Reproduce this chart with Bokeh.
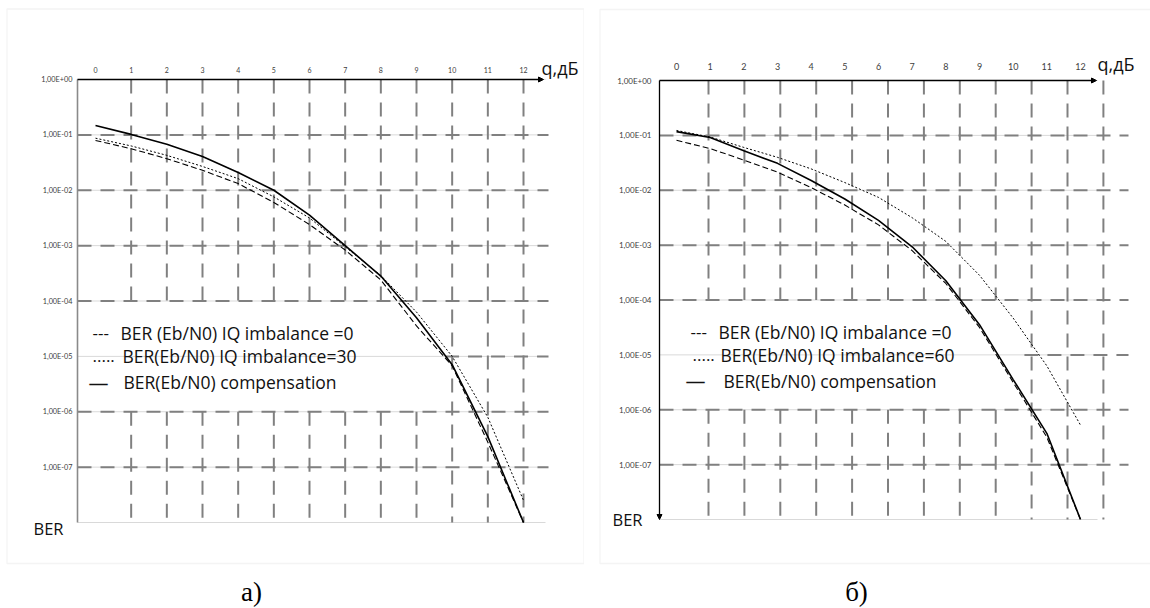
from bokeh.plotting import figure
from bokeh.layouts import row
from bokeh.models import (Range1d, FixedTicker, CustomJSTickFormatter, Label, Arrow,
                          NormalHead, BoxAnnotation, LinearAxis, LogAxis)
from bokeh.embed import file_html
from bokeh.resources import INLINE

FONT = "Lato"
TEXT_FONT = "Open Sans"

# ---------------- data ----------------
x_db = [0, 1, 2, 3, 4, 5, 6, 7, 8, 9, 10, 11, 12]
x_ticks = [0, 1, 2, 3, 4, 5, 6, 7, 8, 9, 10, 11, 12]
grid_cols = [1, 2, 3, 4, 5, 6, 7, 8, 9, 10, 11, 12]
y_ticks = [1e0, 1e-1, 1e-2, 1e-3, 1e-4, 1e-5, 1e-6, 1e-7]
y_tick_labels = ["1,00E+00", "1,00E-01", "1,00E-02", "1,00E-03",
                 "1,00E-04", "1,00E-05", "1,00E-06", "1,00E-07"]
grid_rows = [1e-1, 1e-2, 1e-3, 1e-4, 1e-5, 1e-6, 1e-7]
decades = [1e0, 1e-1, 1e-2, 1e-3, 1e-4, 1e-5, 1e-6, 1e-7, 1e-8]

# panel a
ber_a_ideal = [7.94e-2, 5.62e-2, 3.72e-2, 2.29e-2, 1.32e-2, 6.03e-3, 2.40e-3,
               8.32e-4, 2.40e-4, 3.55e-5, 6.76e-6, 2.82e-7, 1.0e-8]
ber_a_imb = [8.71e-2, 6.31e-2, 4.27e-2, 2.69e-2, 1.62e-2, 7.59e-3, 3.16e-3,
             9.55e-4, 2.88e-4, 6.31e-5, 1.0e-5, 7.94e-7, 2.51e-8]
ber_a_comp = [1.48e-1, 1.02e-1, 6.76e-2, 4.07e-2, 2.09e-2, 1.0e-2, 3.55e-3,
              1.0e-3, 2.82e-4, 5.0e-5, 7.08e-6, 3.55e-7, 1.0e-8]
# panel b
ber_b_ideal = [8.13e-2, 5.75e-2, 3.55e-2, 2.14e-2, 1.12e-2, 5.37e-3, 2.34e-3,
               7.94e-4, 2.0e-4, 3.16e-5, 3.16e-6, 3.16e-7, 1.0e-8]
ber_b_imb = [1.23e-1, 9.33e-2, 6.03e-2, 3.98e-2, 2.45e-2, 1.38e-2, 7.41e-3,
             3.16e-3, 1.17e-3, 2.82e-4, 4.68e-5, 6.31e-6, 5.25e-7]
ber_b_comp = [1.17e-1, 9.12e-2, 5.25e-2, 3.09e-2, 1.51e-2, 6.92e-3, 2.82e-3,
              9.33e-4, 2.24e-4, 3.55e-5, 3.55e-6, 3.72e-7, 1.0e-8]

legend_marks = ["---", ".....", "\u2014"]
legend_a = ["BER (Eb/N0) IQ imbalance =0", "BER(Eb/N0) IQ imbalance=30",
            "BER(Eb/N0) compensation"]
legend_b = ["BER (Eb/N0) IQ imbalance =0", "BER(Eb/N0) IQ imbalance=60",
            "BER(Eb/N0) compensation"]
x_title = "q,дБ"
y_title = "BER"
captions = ["а)", "б)"]

# ---------------- layout constants (canvas pixels) ----------------
Y_BOTTOM, Y_TOP = 1e-8, 1.0
GAP_TOP, GAP_BOTTOM = 1e-4, 1e-6   # hand-drawn grid left out behind the legend
GAP_COLS = 9
PARTIAL_ROW, PARTIAL_START = 1e-5, 9.8
LEGEND_ROW = 1e-5
legend_dy = [23, 0, -26]
mark_fs = ["17px", "17px", "20px"]
LEGEND_FS = "17.5px"

cfg_a = dict(W=584, H=608, x0=95.0, ppu=35.667, g0=95.0, gppu=35.667, y0=79.0, ppd=55.375,
             axis_px=77, grid_end_px=548, excel_end_px=545, arrow_px=543,
             ideal=ber_a_ideal, imb=ber_a_imb, comp=ber_a_comp, legend=legend_a,
             tick_fs_x="7px", tick_fs_y="7.3px", x_so=7, y_so=5, y_axis="grey",
             box=(6.5, 583.5, 8.5, 563), mark_dx=[15, 15, 11], text_dx=[43, 45, 46],
             ber_off=(-14, -6), q_off=(-2, 12), cap=(251, 591), caption=captions[0])
cfg_b = dict(W=566, H=608, x0=92.0, ppu=33.667, g0=88.1, gppu=35.9, y0=80.0, ppd=54.875,
             axis_px=75, grid_end_px=544, excel_end_px=513, arrow_px=512,
             ideal=ber_b_ideal, imb=ber_b_imb, comp=ber_b_comp, legend=legend_b,
             tick_fs_x="9px", tick_fs_y="8px", x_so=11, y_so=8, y_axis="arrow",
             box=(15.5, 580, 9.0, 563), mark_dx=[31, 33, 26], text_dx=[59, 61, 64],
             ber_off=(-17, 0), q_off=(1, 17), cap=(272, 591), caption=captions[1])

TICK_JS = """
let best = -1, bd = 1e9;
for (let i = 0; i < vals.length; i++) {
  const d = Math.abs(Math.log10(vals[i]) - Math.log10(tick));
  if (d < bd) { bd = d; best = i; }
}
return (best >= 0 && bd < 1e-6) ? labs[best] : "";
"""


def make_panel(c):
    W, H = c["W"], c["H"]
    px_x = lambda px: (px - c["x0"]) / c["ppu"]
    px_g = lambda px: (px - c["g0"]) / c["gppu"]
    xr = (px_x(0), px_x(W))
    gr = (px_g(0), px_g(W))
    yr = (10 ** (-(H - c["y0"]) / c["ppd"]), 10 ** (c["y0"] / c["ppd"]))
    x_left = px_x(c["axis_px"])
    g_left, g_right = px_g(c["axis_px"]), px_g(c["grid_end_px"])
    x_excel_end = px_x(c["excel_end_px"])
    x_arrow = px_x(c["arrow_px"])

    p = figure(width=W, height=H, x_range=Range1d(*xr), y_range=Range1d(*yr),
               y_axis_type="log", x_axis_location=None, y_axis_location=None,
               min_border=0, output_backend="svg", toolbar_location=None)
    p.extra_x_ranges = {"grid": Range1d(*gr)}
    p.outline_line_color = None
    p.background_fill_color = "white"
    p.border_fill_color = "white"
    p.grid.visible = False

    # Excel light-grey major gridlines
    p.segment(x0=[x_left] * len(decades), y0=decades, x1=[x_excel_end] * len(decades),
              y1=decades, line_color="#d9d9d9", line_width=1)

    # dashed (hand drawn) grid overlay
    vx, vy0, vy1 = [], [], []
    for gx in grid_cols:
        if gx <= GAP_COLS:
            vx += [gx, gx]
            vy0 += [Y_TOP, GAP_BOTTOM]
            vy1 += [GAP_TOP, Y_BOTTOM]
        else:
            vx.append(gx)
            vy0.append(Y_TOP)
            vy1.append(Y_BOTTOM)
    p.segment(x0=vx, y0=vy0, x1=vx, y1=vy1, x_range_name="grid",
              line_color="#808080", line_width=2, line_dash="14 9")
    hx0 = [PARTIAL_START if gy == PARTIAL_ROW else g_left for gy in grid_rows]
    hx1 = [g_right] * len(grid_rows)
    p.segment(x0=hx0, y0=grid_rows, x1=hx1, y1=grid_rows, x_range_name="grid",
              line_color="#808080", line_width=2, line_dash="14 9")

    # curves
    p.line(x_db, c["ideal"], line_color="black", line_width=1.1, line_dash="6 3")
    p.line(x_db, c["imb"], line_color="black", line_width=1.0, line_dash="2 2")
    p.line(x_db, c["comp"], line_color="black", line_width=1.6)

    # axes crossing at the top-left corner
    xa = LinearAxis(fixed_location=Y_TOP, ticker=FixedTicker(ticks=x_ticks))
    xa.axis_line_color = None
    xa.major_tick_line_color = None
    xa.minor_tick_line_color = None
    xa.major_tick_out = 0
    xa.major_label_text_font = FONT
    xa.major_label_text_font_size = c["tick_fs_x"]
    xa.major_label_text_color = "#404040"
    xa.major_label_standoff = c["x_so"]
    p.add_layout(xa, "above")

    ya = LogAxis(fixed_location=x_left, ticker=FixedTicker(ticks=y_ticks),
                 formatter=CustomJSTickFormatter(args=dict(vals=y_ticks, labs=y_tick_labels),
                                                 code=TICK_JS))
    ya.bounds = (Y_BOTTOM, Y_TOP)
    ya.major_tick_line_color = None
    ya.minor_tick_line_color = None
    ya.major_tick_out = 0
    ya.major_label_text_font = FONT
    ya.major_label_text_font_size = c["tick_fs_y"]
    ya.major_label_text_color = "#404040"
    ya.major_label_standoff = c["y_so"]
    if c["y_axis"] == "grey":
        ya.axis_line_color = "#8a8a8a"
        ya.axis_line_width = 1.6
    else:
        ya.axis_line_color = None
        p.add_layout(Arrow(end=NormalHead(size=5, line_color="black", fill_color="black"),
                           x_start=x_left, y_start=Y_TOP, x_end=x_left, y_end=Y_BOTTOM,
                           line_color="black", line_width=1.3))
    p.add_layout(ya, "left")

    p.add_layout(Arrow(end=NormalHead(size=5, line_color="black", fill_color="black"),
                       x_start=x_left, y_start=Y_TOP, x_end=x_arrow, y_end=Y_TOP,
                       line_color="black", line_width=1.3))

    # axis titles
    p.add_layout(Label(x=x_arrow, y=Y_TOP, x_offset=c["q_off"][0], y_offset=c["q_off"][1],
                       text=x_title, text_font=TEXT_FONT, text_font_size="18px",
                       text_color="#111111", text_align="left", text_baseline="middle"))
    p.add_layout(Label(x=x_left, y=Y_BOTTOM, x_offset=c["ber_off"][0], y_offset=c["ber_off"][1],
                       text=y_title, text_font=TEXT_FONT, text_font_size="16.5px",
                       text_color="#111111", text_align="right", text_baseline="middle"))

    # legend (text box)
    for i in range(3):
        p.add_layout(Label(x=x_left, y=LEGEND_ROW, x_offset=c["mark_dx"][i],
                           y_offset=legend_dy[i], text=legend_marks[i], text_font=TEXT_FONT,
                           text_font_size=mark_fs[i], text_color="#111111",
                           text_baseline="middle", text_align="left"))
        p.add_layout(Label(x=x_left, y=LEGEND_ROW, x_offset=c["text_dx"][i],
                           y_offset=legend_dy[i], text=c["legend"][i], text_font=TEXT_FONT,
                           text_font_size=LEGEND_FS, text_color="#111111",
                           text_baseline="middle", text_align="left"))

    # panel frame box
    l, r, t, b = c["box"]
    p.add_layout(BoxAnnotation(left=l, right=r, top=t, bottom=b,
                               left_units="canvas", right_units="canvas",
                               top_units="canvas", bottom_units="canvas",
                               fill_color=None, fill_alpha=0,
                               line_color="#d9d9d9", line_width=1.3))
    # caption
    p.add_layout(Label(x=c["cap"][0], y=c["cap"][1], x_units="canvas", y_units="canvas",
                       text=c["caption"], text_font="Liberation Serif", text_font_size="27px",
                       text_color="black", text_align="center", text_baseline="middle"))
    return p


pa = make_panel(cfg_a)
pb = make_panel(cfg_b)
layout = row(pa, pb)

open("out.html", "w").write(file_html(layout, INLINE))
